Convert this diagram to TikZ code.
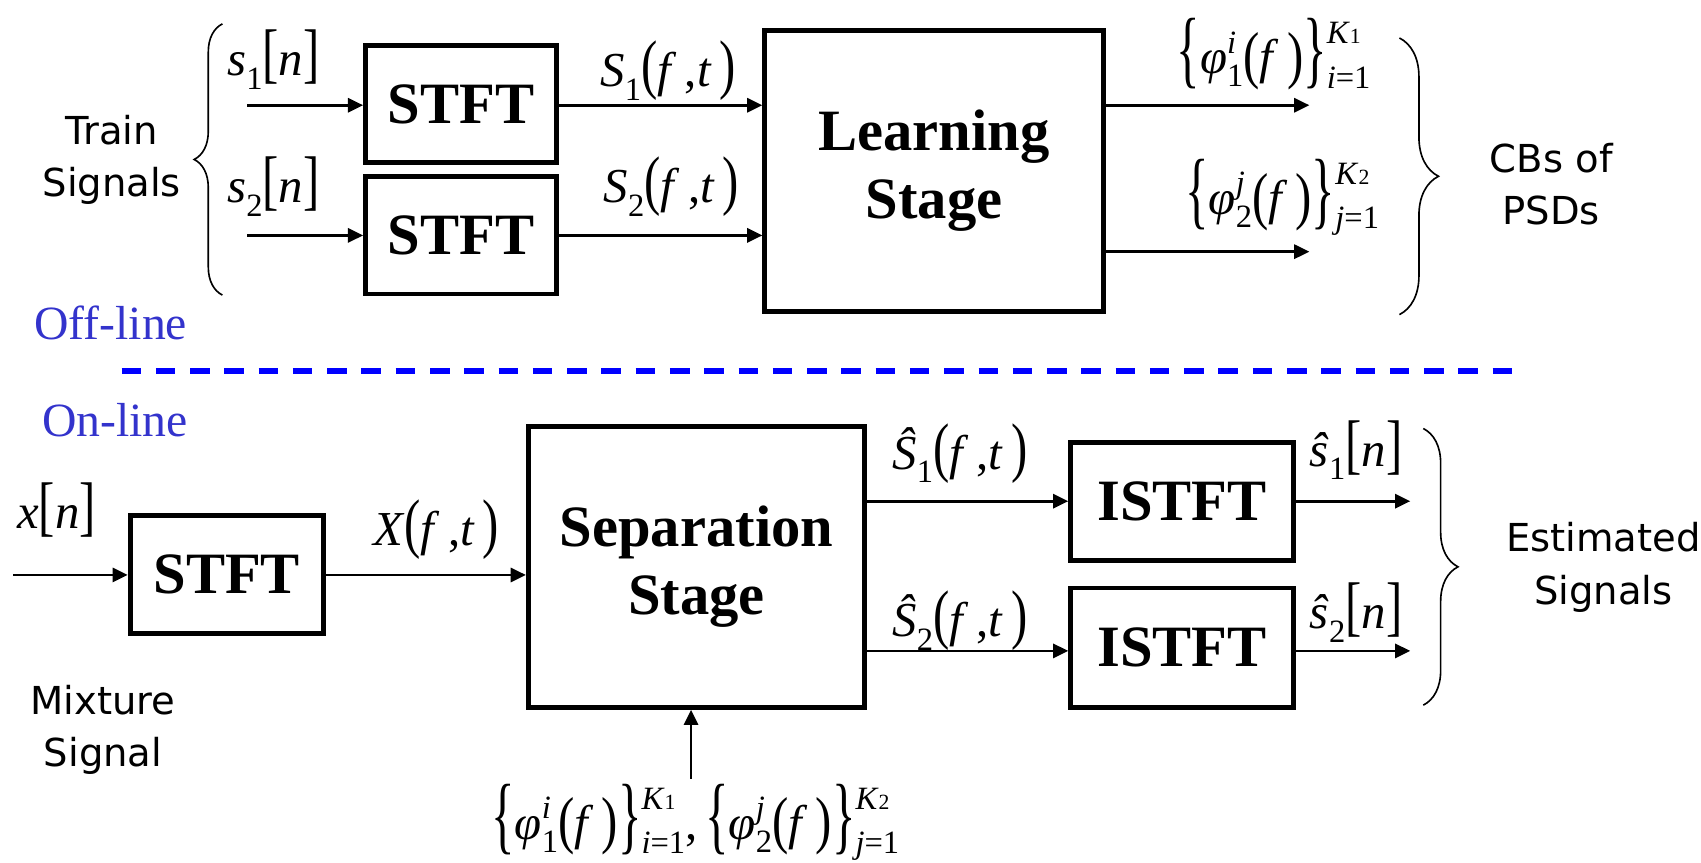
\documentclass[tikz,border=0pt]{standalone}
\usepackage{graphicx}
\usepackage{fontspec}
\setmainfont{Liberation Serif}
\newfontfamily\sansf{DejaVu Sans}
\usetikzlibrary{arrows.meta,decorations.pathreplacing}
\definecolor{lineblue}{RGB}{0,0,255}
\definecolor{txtblue}{RGB}{51,51,204}
\newcommand\vi[1]{\textit{#1}}
\newcommand\mathsz{\fontsize{45}{45}\selectfont}
\newcommand\scrsz{\fontsize{30}{30}\selectfont}
\newcommand\ttsz{\fontsize{20}{20}\selectfont}
\newcommand\lowsc[1]{\raisebox{-0.28em}{\scrsz #1}}
\newcommand\dlm[2][1.35]{\scalebox{1}[#1]{#2}}
\newcommand\hilo[4]{\raisebox{#1}{\makebox[0pt][l]{\scrsz #3}}\raisebox{#2}{\scrsz #4}}
\newcommand\brc[1]{\raisebox{-0.08em}{\dlm[1.75]{#1}}}
\newcommand\prn[1]{\raisebox{-0.05em}{\dlm[1.3]{#1}}}
\newcommand\phil[3]{\brc{\{}\vi{φ}\hilo{19pt}{-12pt}{\vi{#1}}{#2}\prn{(}\vi{f}\,\prn{)}\brc{\}}\hilo{28pt}{-13pt}{\vi{K}{\ttsz #3}}{\vi{#1}=1}}
\tikzset{
  blk/.style={draw,line width=4.5pt,inner sep=0pt,font=\fontsize{54}{63}\selectfont\bfseries,align=center},
  sig/.style={line width=2.5pt,-{Triangle[length=14pt,width=13pt]}},
  ml/.style={inner sep=0pt,font=\mathsz},
  st/.style={inner sep=0pt,font=\sansf\fontsize{35.5}{48}\selectfont,align=center},
  bracestyle/.style={decorate,line width=1.5pt},
}
\begin{document}
\begin{tikzpicture}[x=1pt,y=-1pt]
\useasboundingbox (0,0) rectangle (1568,795);
% ---------- off-line ----------
\node[blk,minimum width=176,minimum height=108] (stft1) at (425,96) {STFT};
\node[blk,minimum width=176,minimum height=108] (stft2) at (425,217) {STFT};
\node[blk,minimum width=312,minimum height=259] (learn) at (861,157.5) {Learning\\Stage};
\coordinate (s1in) at (228,97);
\coordinate (s2in) at (228,217);
\coordinate (o1) at (1207,97);
\coordinate (o2) at (1207,232);
\draw[sig] (s1in) -- (stft1.west |- s1in);
\draw[sig] (s2in) -- (stft2.west |- s2in);
\draw[sig] (stft1.east |- s1in) -- (learn.west |- s1in);
\draw[sig] (stft2.east |- s2in) -- (learn.west |- s2in);
\draw[sig] (learn.east |- o1) -- (o1);
\draw[sig] (learn.east |- o2) -- (o2);
\node[ml] (ls1) at (252,55) {\vi{s}\lowsc{1}\dlm{[}\vi{n}\dlm{]}};
\node[ml] (ls2) at (252,172) {\vi{s}\lowsc{2}\dlm{[}\vi{n}\dlm{]}};
\node[ml] (lS1) at (616,65) {\vi{S}\lowsc{1}\dlm{(}\vi{f}\,,\vi{t}\,\dlm{)}};
\node[ml] (lS2) at (619,172) {\vi{S}\lowsc{2}\dlm{(}\vi{f}\,,\vi{t}\,\dlm{)}};
\node[ml] (lp1) at (1174,50) {\phil{i}{1}{1}};
\node[ml] (lp2) at (1182,182) {\phil{j}{2}{2}};
\node[st] (train) at (103,147) {Train\\Signals};
\node[st] (cbs) at (1430,170) {CBs of\\PSDs};
\coordinate (lb1) at (205,272);
\coordinate (lb2) at (205,22);
\draw[bracestyle,decoration={brace,amplitude=26pt}] (lb1) -- (lb2);
\coordinate (rb1) at (1290,35);
\coordinate (rb2) at (1290,290);
\draw[bracestyle,decoration={brace,amplitude=36pt}] (rb1) -- (rb2);
\node[inner sep=0pt,font=\fontsize{44}{44}\selectfont,text=txtblue] (off) at (102,298) {Off-line};
% ---------- divider ----------
\coordinate (d1) at (112,342);
\coordinate (d2) at (1395,342);
\draw[lineblue,line width=5pt,dash pattern=on 18pt off 13.6pt] (d1) -- (d2);
% ---------- on-line ----------
\node[inner sep=0pt,font=\fontsize{44}{44}\selectfont,text=txtblue] (on) at (106,387) {On-line};
\node[blk,minimum width=178,minimum height=109] (stft3) at (209,529.5) {STFT};
\node[blk,minimum width=310,minimum height=259] (sep) at (642,522.5) {Separation\\Stage};
\node[blk,minimum width=205,minimum height=109] (ist1) at (1089.5,462.5) {ISTFT};
\node[blk,minimum width=205,minimum height=110] (ist2) at (1089.5,597) {ISTFT};
\coordinate (xin) at (12,530);
\coordinate (e1) at (1300,462);
\coordinate (e2) at (1300,600);
\draw[sig] (xin) -- (stft3.west |- xin);
\draw[sig] (stft3.east |- xin) -- (sep.west |- xin);
\draw[sig] (sep.east |- e1) -- (ist1.west |- e1);
\draw[sig] (sep.east |- e2) -- (ist2.west |- e2);
\draw[sig] (ist1.east |- e1) -- (e1);
\draw[sig] (ist2.east |- e2) -- (e2);
\node[ml] (lx) at (52,470) {\vi{x}\dlm{[}\vi{n}\dlm{]}};
\node[ml] (lX) at (402,488) {\vi{X}\dlm{(}\vi{f}\,,\vi{t}\,\dlm{)}};
\node[ml] (lh1) at (885,418) {\vi{Ŝ}\lowsc{1}\dlm{(}\vi{f}\,,\vi{t}\,\dlm{)}};
\node[ml] (lh2) at (885,572) {\vi{Ŝ}\lowsc{2}\dlm{(}\vi{f}\,,\vi{t}\,\dlm{)}};
\node[ml] (lsh1) at (1250,415) {\vi{ŝ}\lowsc{1}\dlm{[}\vi{n}\dlm{]}};
\node[ml] (lsh2) at (1250,565) {\vi{ŝ}\lowsc{2}\dlm{[}\vi{n}\dlm{]}};
\node[ml] (lphi) at (641,758) {\phil{i}{1}{1},\,\phil{j}{2}{2}};
\coordinate (up) at (637,718);
\draw[sig] (up) -- (sep.south -| up);
\node[st] (mix) at (95,673) {Mixture\\Signal};
\node[st] (est) at (1478,523) {Estimated\\Signals};
\coordinate (eb1) at (1312,395);
\coordinate (eb2) at (1312,650);
\draw[bracestyle,decoration={brace,amplitude=32pt}] (eb1) -- (eb2);
\end{tikzpicture}
\end{document}
